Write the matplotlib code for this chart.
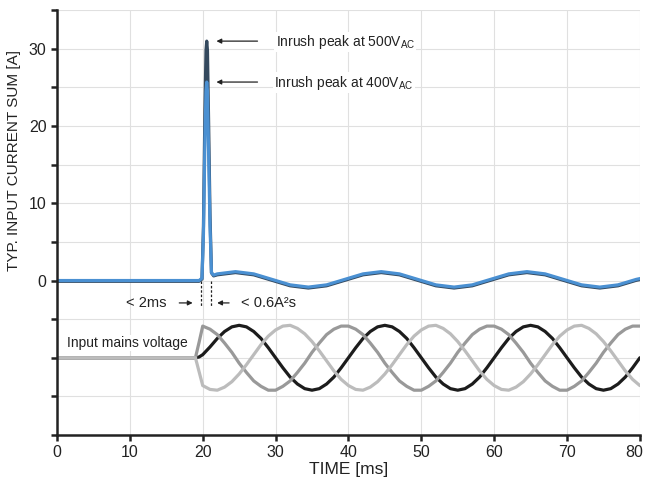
import matplotlib
matplotlib.use("Agg")
import matplotlib.pyplot as plt
from matplotlib.ticker import FixedLocator
from matplotlib.transforms import ScaledTranslation

plt.rcParams['font.family'] = ['Liberation Sans', 'DejaVu Sans']
plt.rcParams['mathtext.fontset'] = 'custom'
plt.rcParams['mathtext.rm'] = 'Liberation Sans'

# current sum, 400 V and 500 V (A)
t_cur = [0, 19.5, 19.9, 20.1, 20.3, 20.45, 20.55, 20.65, 20.8, 21.0, 21.2, 21.5,
         22.0, 24.5, 27.0, 29.5, 32.0, 34.5, 37.0, 39.5, 42.0, 44.5, 47.0, 49.5,
         52.0, 54.5, 57.0, 59.5, 62.0, 64.5, 67.0, 69.5, 72.0, 74.5, 77.0, 79.5, 80.0]
cur_400 = [0, 0, 0.3, 6, 18, 24.5, 25.7, 24.5, 17, 7, 1.0, 0.7,
           0.86, 1.15, 0.86, 0.15, -0.56, -0.85, -0.56, 0.15, 0.86, 1.15, 0.86, 0.15,
           -0.56, -0.85, -0.56, 0.15, 0.86, 1.15, 0.86, 0.15, -0.56, -0.85, -0.56, 0.15, 0.25]
cur_500 = [-0.1, -0.1, 0.2, 7, 22, 29.8, 31.0, 29.8, 21, 8.5, 1.0, 0.6,
           0.74, 1.03, 0.74, 0.03, -0.68, -0.97, -0.68, 0.03, 0.74, 1.03, 0.74, 0.03,
           -0.68, -0.97, -0.68, 0.03, 0.74, 1.03, 0.74, 0.03, -0.68, -0.97, -0.68, 0.03, 0.13]

# input mains voltage, three phases (drawn around -10 on the same axis)
t_volt = [0, 19, 19.5] + list(range(20, 81))
phase_black = [-10.0, -10.0, -9.9,
               -9.6, -8.6, -7.5, -6.6, -6.0, -5.8, -6.0, -6.6, -7.5, -8.7,
               -10.0, -11.3, -12.5, -13.4, -14.0, -14.2, -14.0, -13.4, -12.5, -11.3,
               -10.0, -8.7, -7.5, -6.6, -6.0, -5.8, -6.0, -6.6, -7.5, -8.7,
               -10.0, -11.3, -12.5, -13.4, -14.0, -14.2, -14.0, -13.4, -12.5, -11.3,
               -10.0, -8.7, -7.5, -6.6, -6.0, -5.8, -6.0, -6.6, -7.5, -8.7,
               -10.0, -11.3, -12.5, -13.4, -14.0, -14.2, -14.0, -13.4, -12.5, -11.3,
               -10.0]
phase_mid = [-10.0, -10.0, -8.0,
             -5.9, -6.3, -7.0, -8.1, -9.3, -10.7, -11.9, -13.0, -13.7, -14.2,
             -14.2, -13.7, -13.0, -11.9, -10.7, -9.3, -8.1, -7.0, -6.3, -5.9,
             -5.9, -6.3, -7.0, -8.1, -9.3, -10.7, -11.9, -13.0, -13.7, -14.2,
             -14.2, -13.7, -13.0, -11.9, -10.7, -9.3, -8.1, -7.0, -6.3, -5.9,
             -5.9, -6.3, -7.0, -8.1, -9.3, -10.7, -11.9, -13.0, -13.7, -14.2,
             -14.2, -13.7, -13.0, -11.9, -10.7, -9.3, -8.1, -7.0, -6.3, -5.9,
             -5.9]
phase_light = [-10.0, -10.0, -11.8,
               -13.6, -14.1, -14.2, -13.8, -13.1, -12.1, -10.9, -9.6, -8.3, -7.2,
               -6.4, -5.9, -5.8, -6.2, -6.9, -7.9, -9.1, -10.4, -11.7, -12.8,
               -13.6, -14.1, -14.2, -13.8, -13.1, -12.1, -10.9, -9.6, -8.3, -7.2,
               -6.4, -5.9, -5.8, -6.2, -6.9, -7.9, -9.1, -10.4, -11.7, -12.8,
               -13.6, -14.1, -14.2, -13.8, -13.1, -12.1, -10.9, -9.6, -8.3, -7.2,
               -6.4, -5.9, -5.8, -6.2, -6.9, -7.9, -9.1, -10.4, -11.7, -12.8,
               -13.6]

x_ticks = [0, 10, 20, 30, 40, 50, 60, 70, 80]
y_ticks = [-20, -15, -10, -5, 0, 5, 10, 15, 20, 25, 30, 35]
y_labels = ['', '', '', '', '0', '', '10', '', '20', '', '30', '']

fig = plt.figure(figsize=(6.47, 4.87), dpi=100)
ax = fig.add_axes([0.0881, 0.1068, 0.9009, 0.8722])

ax.plot(t_volt, phase_black, color='#1c1c1c', lw=2.3, solid_capstyle='round')
ax.plot(t_volt, phase_mid, color='#999999', lw=2.3, solid_capstyle='round')
ax.plot(t_volt, phase_light, color='#bcbcbc', lw=2.3, solid_capstyle='round')

ax.plot(t_cur, cur_500, color='#34495e', lw=2.3, solid_joinstyle='round')
ax.plot(t_cur, cur_400, color='#4a90d2', lw=2.3, solid_joinstyle='round')

ax.set_xlim(0, 80)
ax.set_ylim(-20, 35)
ax.xaxis.set_major_locator(FixedLocator(x_ticks))
ax.yaxis.set_major_locator(FixedLocator(y_ticks))
ax.set_yticklabels(y_labels)
ax.grid(True, color='#e0e0e0', lw=0.8)
ax.set_axisbelow(True)
for s in ['top', 'right']:
    ax.spines[s].set_visible(False)
for s in ['left', 'bottom']:
    ax.spines[s].set_linewidth(1.8)
    ax.spines[s].set_color('#222222')
ax.tick_params(direction='out', length=4, width=1.8, color='#222222',
               labelsize=11.5, labelcolor='#222222')

# keep the last x label inside the figure
last = ax.get_xticklabels()[-1]
last.set_transform(last.get_transform() + ScaledTranslation(-4 / 72, 0, fig.dpi_scale_trans))

ax.set_xlabel('TIME [ms]', fontsize=12.5, color='#222222', labelpad=1)
ax.set_ylabel('TYP. INPUT CURRENT SUM [A]', fontsize=11, color='#222222')
ax.yaxis.set_label_coords(-0.062, 0.647)

arrow = dict(arrowstyle='-|>', color='#222222', lw=0.9, mutation_scale=7)
ax.annotate('', xy=(21.5, 31), xytext=(27.9, 31), arrowprops=arrow)
ax.annotate('', xy=(21.5, 25.7), xytext=(27.9, 25.7), arrowprops=arrow)
box = dict(facecolor='white', edgecolor='none', pad=1)
ax.text(30.0, 30.9, r'Inrush peak at 500V$_{\mathrm{AC}}$', fontsize=10,
        va='center', ha='left', color='#222222', bbox=box)
ax.text(29.8, 25.6, r'Inrush peak at 400V$_{\mathrm{AC}}$', fontsize=10,
        va='center', ha='left', color='#222222', bbox=box)

ax.plot([19.7, 19.7], [0, -3.4], color='#222222', lw=0.9, ls=(0, (2, 1.5)))
ax.plot([21.1, 21.1], [0, -3.4], color='#222222', lw=0.9, ls=(0, (2, 1.5)))
ax.annotate('', xy=(19.0, -2.9), xytext=(16.4, -2.9), arrowprops=arrow)
ax.annotate('', xy=(21.6, -2.9), xytext=(24.0, -2.9), arrowprops=arrow)
ax.text(15.0, -2.9, '< 2ms', fontsize=10.5, va='center', ha='right', color='#222222')
ax.text(25.3, -2.9, '< 0.6A²s', fontsize=10.5, va='center', ha='left', color='#222222')

ax.text(1.4, -8.1, 'Input mains voltage', fontsize=10, va='center', ha='left',
        color='#222222', bbox=box)

fig.savefig('out.png', dpi=100)
